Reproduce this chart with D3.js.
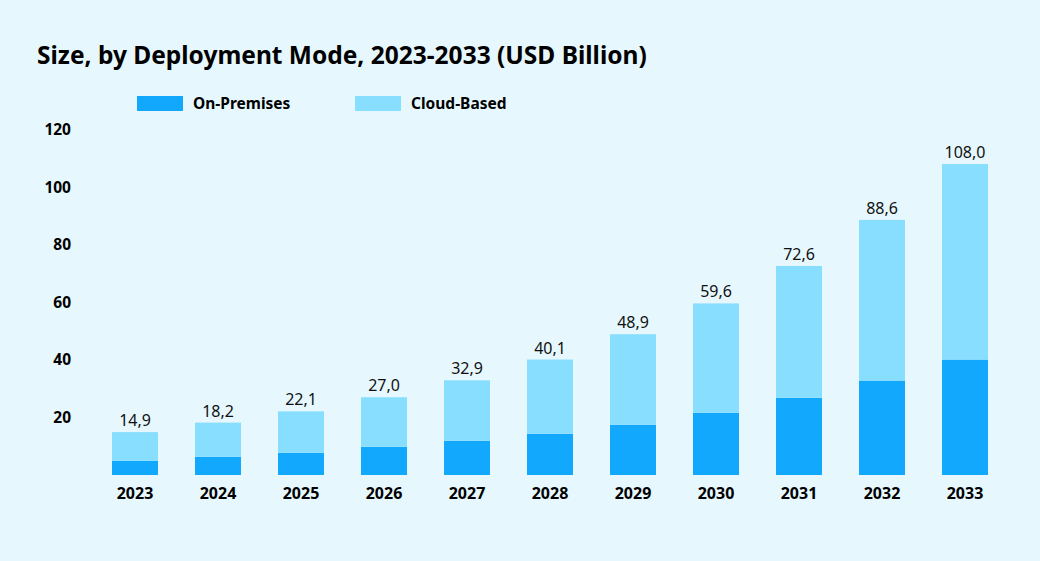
<!DOCTYPE html>
<html><head><meta charset="utf-8">
<script src="https://cdn.jsdelivr.net/npm/d3@7"></script>
<style>
html,body{margin:0;padding:0;background:#E6F8FE;}
svg{display:block;font-family:"Noto Sans",sans-serif;}
</style></head>
<body><svg id="chart" width="1040" height="561"></svg>
<script>
const years = ["2023","2024","2025","2026","2027","2028","2029","2030","2031","2032","2033"];
const totals = [14.9,18.2,22.1,27.0,32.9,40.1,48.9,59.6,72.6,88.6,108.0];
const onPremises = [4.9,6.3,7.7,9.8,11.9,14.3,17.4,21.6,26.8,32.8,40.1];
const cloudBased = [10.0,11.9,14.4,17.2,21.0,25.8,31.5,38.0,45.8,55.8,67.9];
const yTicks = [20,40,60,80,100,120];
const seriesNames = ["On-Premises","Cloud-Based"];
const colors = ["#12A8FD","#88DEFE"];

const FONT = '"Noto Sans",sans-serif';
const svg = d3.select("#chart");
svg.append("rect").attr("width",1040).attr("height",561).attr("fill","#E6F8FE");

const x = d3.scaleBand().domain(years).range([93.5,1006.5]).paddingInner(0.446).paddingOuter(0.223);
const y = d3.scaleLinear().domain([0,120]).range([475,129.5]);

svg.append("text").attr("x",37).attr("y",63.5).attr("font-size",24.5).attr("font-weight",700)
  .attr("fill","#000").text("Size, by Deployment Mode, 2023-2033 (USD Billion)");

// legend
const legX = [137,355];
seriesNames.forEach((n,i)=>{
  svg.append("rect").attr("x",legX[i]).attr("y",96).attr("width",46).attr("height",15).attr("fill",colors[i]);
  svg.append("text").attr("x",legX[i]+56).attr("y",109).attr("font-size",15.5).attr("font-weight",700).attr("fill","#000").text(n);
});

// y axis
const yAxis = svg.append("g").attr("transform","translate(71,0)")
  .call(d3.axisLeft(y).tickValues(yTicks).tickSize(0).tickPadding(0));
yAxis.select(".domain").remove();
yAxis.selectAll("text").attr("font-size",15.5).attr("font-weight",700).attr("fill","#000").attr("font-family",FONT);

// x axis
const xAxis = svg.append("g").attr("transform","translate(0,475)")
  .call(d3.axisBottom(x).tickSize(0).tickPadding(13));
xAxis.select(".domain").remove();
xAxis.selectAll("text").attr("font-size",16).attr("font-weight",700).attr("fill","#000").attr("font-family",FONT);

const data = years.map((yr,i)=>({year:yr,"On-Premises":onPremises[i],"Cloud-Based":cloudBased[i],total:totals[i]}));
const stack = d3.stack().keys(seriesNames)(data);
svg.append("g").selectAll("g").data(stack).join("g").attr("fill",(d,i)=>colors[i])
  .selectAll("rect").data(d=>d).join("rect")
  .attr("x",d=>x(d.data.year)).attr("width",x.bandwidth())
  .attr("y",d=>y(d[1])).attr("height",d=>y(d[0])-y(d[1]));

svg.append("g").selectAll("text").data(data).join("text")
  .attr("x",d=>x(d.year)+x.bandwidth()/2).attr("y",d=>y(d.total)-6)
  .attr("text-anchor","middle").attr("font-size",16).attr("fill","#111")
  .text(d=>d3.format(".1f")(d.total).replace(".",","));
</script></body></html>
